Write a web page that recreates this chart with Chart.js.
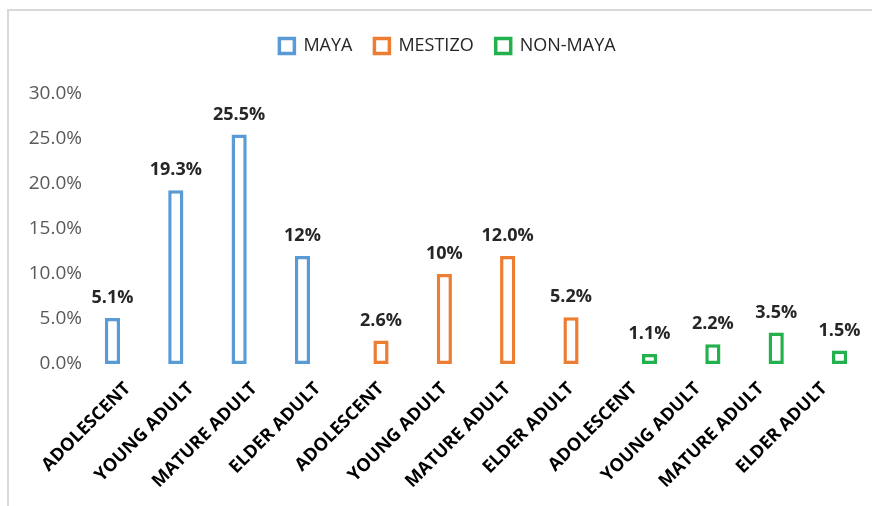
<!DOCTYPE html>
<html>
<head>
<meta charset="utf-8">
<script src="https://cdn.jsdelivr.net/npm/chart.js@4.4.0/dist/chart.umd.min.js"></script>
<style>
  html, body { margin: 0; padding: 0; background: #fff; }
  .frame {
    position: absolute;
    left: 7px; top: 9px;
    width: 863px; height: 495px;
    border-top: 2px solid #d9d9d9;
    border-left: 2px solid #d9d9d9;
  }
</style>
</head>
<body>
<div class="frame"><canvas id="chart"></canvas></div>
<script>
const categories = ['ADOLESCENT', 'YOUNG ADULT', 'MATURE ADULT', 'ELDER ADULT',
                    'ADOLESCENT', 'YOUNG ADULT', 'MATURE ADULT', 'ELDER ADULT',
                    'ADOLESCENT', 'YOUNG ADULT', 'MATURE ADULT', 'ELDER ADULT'];

const maya     = [0.051, 0.193, 0.255, 0.12, null, null, null, null, null, null, null, null];
const mestizo  = [null, null, null, null, 0.026, 0.10, 0.12, 0.052, null, null, null, null];
const nonMaya  = [null, null, null, null, null, null, null, null, 0.011, 0.022, 0.035, 0.015];

// labels as printed on the chart (formats differ)
const mayaLabels    = ['5.1%', '19.3%', '25.5%', '12%'];
const mestizoLabels = ['2.6%', '10%', '12.0%', '5.2%'];
const nonMayaLabels = ['1.1%', '2.2%', '3.5%', '1.5%'];

const yTicks = [0, 0.05, 0.10, 0.15, 0.20, 0.25, 0.30];

const FONT = "'Open Sans', sans-serif";

const barLabels = {
  id: 'barLabels',
  afterDatasetsDraw(chart) {
    const ctx = chart.ctx;
    ctx.save();
    ctx.font = "bold 18px " + FONT;
    ctx.fillStyle = '#262626';
    ctx.textAlign = 'center';
    ctx.textBaseline = 'middle';
    chart.data.datasets.forEach((ds, i) => {
      const meta = chart.getDatasetMeta(i);
      let k = 0;
      meta.data.forEach((el, j) => {
        if (ds.data[j] == null) return;
        ctx.fillText(ds.printed[k], el.x, el.y - 20);
        k++;
      });
    });
    ctx.restore();
  }
};

function series(label, data, color, printed) {
  return {
    label: label,
    data: data,
    printed: printed,
    backgroundColor: '#ffffff',
    borderColor: color,
    borderWidth: 3.5,
    borderSkipped: false,
    categoryPercentage: 0.72,
    barPercentage: 1.0
  };
}

const chart = new Chart(document.getElementById('chart'), {
  type: 'bar',
  data: {
    labels: categories,
    datasets: [
      series('MAYA', maya, '#5b9bd5', mayaLabels),
      series('MESTIZO', mestizo, '#ed7d31', mestizoLabels),
      series('NON-MAYA', nonMaya, '#22b14c', nonMayaLabels)
    ]
  },
  options: {
    responsive: true,
    maintainAspectRatio: false,
    animation: false,
    layout: { padding: { top: 4, right: 16, left: 0, bottom: 0 } },
    plugins: {
      legend: {
        position: 'top',
        labels: {
          color: '#262626',
          font: { family: FONT, size: 18 },
          boxWidth: 15,
          boxHeight: 15,
          padding: 22
        }
      },
      tooltip: { enabled: false }
    },
    scales: {
      x: {
        grid: { display: false },
        border: { display: false },
        ticks: {
          color: '#000000',
          font: { family: FONT, size: 18, weight: 'bold' },
          autoSkip: false,
          maxRotation: 45,
          minRotation: 45,
          padding: 6
        },
        afterFit(scale) { scale.height = 142; }
      },
      y: {
        min: 0,
        max: 0.30,
        grid: { display: false },
        border: { display: false },
        afterBuildTicks(scale) { scale.ticks = yTicks.map(v => ({ value: v })); },
        ticks: {
          color: '#595959',
          font: { family: FONT, size: 19 },
          padding: 6,
          callback: v => (v * 100).toFixed(1) + '%'
        },
        afterFit(scale) { scale.width = 87; }
      }
    }
  },
  plugins: [barLabels]
});

// leave room under the legend and nudge it right like the original
const legendFit = chart.legend.fit;
chart.legend.fit = function () {
  legendFit.call(this);
  this.height += 29;
};
const legendDraw = chart.legend.draw;
chart.legend.draw = function () {
  this.ctx.save();
  this.ctx.translate(15, 0);
  legendDraw.call(this);
  this.ctx.restore();
};
chart.update();
</script>
</body>
</html>
